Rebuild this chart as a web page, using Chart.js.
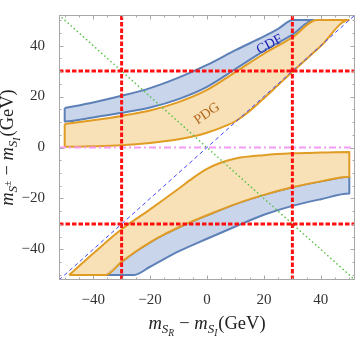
<!DOCTYPE html>
<html>
<head>
<meta charset="utf-8">
<script src="https://cdn.jsdelivr.net/npm/chart.js@4.4.1/dist/chart.umd.min.js"></script>
<style>
  html, body { margin: 0; padding: 0; background: #fff; }
  #wrap { width: 357px; height: 339px; }
</style>
</head>
<body>
<div id="wrap"><canvas id="plot"></canvas></div>
<script>
// region boundaries, [mSR - mSI, mS+- - mSI] in GeV
const cdfUpperHi = [[-50, 15.5], [-40, 17.7], [-30, 20.3], [-20, 23.3], [-10, 27.4], [0, 32.4], [10, 38.2], [20, 43.6], [25, 46.6], [30.2, 50], [37.6, 50]];
const cdfUpperLo = [[-50, 10.2], [-40, 11.8], [-30, 13.6], [-20, 15.7], [-10, 19.0], [0, 23.8], [10, 30.8], [20, 37.9], [30, 44.3], [37.6, 50]];
const pdgUpperHi = [[-50, 9.2], [-40, 10.7], [-30, 12.4], [-20, 14.5], [-10, 17.8], [0, 22.6], [10, 29.6], [20, 36.8], [30, 43.2], [38.6, 50], [49.8, 50]];
const pdgUpperLo = [[-50, 0.3], [-40, 0.5], [-30, 0.9], [-20, 1.8], [-10, 3.2], [-5, 4.3], [0, 5.8], [5, 7.8], [10, 10.3], [15, 14.3], [20, 19.3], [25, 24.5], [30, 29.7], [40, 39.8], [49.8, 50]];
const pdgLowerHi = [[-48.4, -50], [-40, -41.6], [-30, -32.1], [-20, -24.3], [-10, -16.2], [-5, -12.0], [0, -8.4], [5, -5.9], [10, -4.3], [20, -3.0], [30, -2.3], [40, -2.0], [50, -1.8]];
const pdgLowerLo = [[-35.5, -50], [-30, -44.9], [-25, -40.8], [-20, -37.2], [-15, -34.1], [-10, -31.4], [-5, -28.9], [0, -26.6], [10, -22.2], [20, -18.6], [30, -15.6], [40, -13.3], [50, -11.5]];
const cdfLowerLo = [[-25.6, -50], [-20, -46.8], [-10, -40.8], [0, -35.8], [10, -31.0], [20, -26.4], [30, -22.9], [40, -20.3], [50, -18.1]];

const cutsX = [-30, 30];
const cutsY = [-30, 30];
const range = [-52, 52];
const labelTicks = [-40, -20, 0, 20, 40];
const minorTicks = [-50, -45, -40, -35, -30, -25, -20, -15, -10, -5, 0, 5, 10, 15, 20, 25, 30, 35, 40, 45, 50];

const serif = '"Liberation Serif", "DejaVu Serif", serif';
const blueLine = '#5d81b7', blueFill = 'rgba(190, 206, 232, 0.85)';
const orangeLine = '#e19c24', orangeFill = 'rgba(247, 218, 170, 0.85)';

const pts = arr => arr.map(p => ({x: p[0], y: p[1]}));
function band(hi, lo) {
    const ring = [];
    hi.concat(lo.slice().reverse(), [hi[0]]).forEach(p => {
        const last = ring[ring.length - 1];
        if (!last || last[0] !== p[0] || last[1] !== p[1]) ring.push(p);
    });
    return pts(ring);
}

function region(data, line, fill, order) {
    return {data, showLine: true, borderColor: line, backgroundColor: fill, borderWidth: 2,
        fill: 'shape', pointRadius: 0, cubicInterpolationMode: 'monotone', order, borderJoinStyle: 'round'};
}
function guide(data, color, width, dash, order, cap) {
    return {data: pts(data), showLine: true, borderColor: color, borderWidth: width, borderDash: dash,
        fill: false, pointRadius: 0, order, borderCapStyle: cap || 'butt'};
}

const datasets = [
    ...cutsX.map(v => guide([[v, range[0]], [v, range[1]]], '#ff1010', 3, [4.5, 2], 1)),
    ...cutsY.map(v => guide([[range[0], v], [range[1], v]], '#ff1010', 3, [4.5, 2], 1)),
    guide([[range[0], range[1]], [range[1], range[0]]], '#5cc24a', 1.6, [0.1, 4], 2, 'round'),
    guide([[range[0], range[0]], [range[1], range[1]]], '#4646ff', 1, [4, 3], 3),
    guide([[range[0], 0], [range[1], 0]], '#f59af5', 2, [7, 3, 2, 3], 4),
    region(band(pdgUpperHi, pdgUpperLo), orangeLine, orangeFill, 10),
    region(band(cdfUpperHi, cdfUpperLo), blueLine, blueFill, 11),
    region(band(pdgLowerHi, pdgLowerLo), orangeLine, orangeFill, 12),
    region(band(pdgLowerLo, cdfLowerLo), blueLine, blueFill, 13)
];

// frame with inward ticks on all four sides
const frame = {
    id: 'frame',
    afterDatasetsDraw(chart) {
        const {ctx, chartArea: a, scales: {x, y}} = chart;
        ctx.save();
        ctx.strokeStyle = '#a8a8a8';
        ctx.lineWidth = 1;
        ctx.strokeRect(a.left + 0.5, a.top + 0.5, a.width - 1, a.height - 1);
        ctx.beginPath();
        minorTicks.forEach(v => {
            const len = labelTicks.includes(v) ? 4.5 : 2.5;
            const px = Math.round(x.getPixelForValue(v)) + 0.5;
            const py = Math.round(y.getPixelForValue(v)) + 0.5;
            ctx.moveTo(px, a.bottom); ctx.lineTo(px, a.bottom - len);
            ctx.moveTo(px, a.top); ctx.lineTo(px, a.top + len);
            ctx.moveTo(a.left, py); ctx.lineTo(a.left + len, py);
            ctx.moveTo(a.right, py); ctx.lineTo(a.right - len, py);
        });
        ctx.stroke();
        ctx.restore();
    }
};

function rich(ctx, runs, x, y, angle) {
    ctx.save();
    ctx.translate(x, y);
    ctx.rotate(angle);
    ctx.textBaseline = 'alphabetic';
    ctx.textAlign = 'left';
    let total = 0;
    runs.forEach(r => { ctx.font = r.f; total += ctx.measureText(r.t).width + (r.k || 0); });
    let cx = -total / 2;
    runs.forEach(r => {
        ctx.font = r.f;
        ctx.fillText(r.t, cx, r.dy || 0);
        cx += ctx.measureText(r.t).width + (r.k || 0);
    });
    ctx.restore();
}

const it = s => 'italic ' + s + 'px ' + serif;
const rm = s => s + 'px ' + serif;

const texts = {
    id: 'texts',
    afterDraw(chart) {
        const {ctx, chartArea: a, scales: {x, y}} = chart;
        ctx.save();
        ctx.fillStyle = '#1c1cb4';
        ctx.font = rm(14);
        ctx.textAlign = 'center';
        ctx.textBaseline = 'middle';
        ctx.translate(x.getPixelForValue(22), y.getPixelForValue(40.4));
        ctx.rotate(-28 * Math.PI / 180);
        ctx.fillText('CDF', 0, 0);
        ctx.restore();

        ctx.save();
        ctx.fillStyle = '#b2671c';
        ctx.font = rm(14);
        ctx.textAlign = 'center';
        ctx.textBaseline = 'middle';
        ctx.translate(x.getPixelForValue(0), y.getPixelForValue(13.3));
        ctx.rotate(-35 * Math.PI / 180);
        ctx.fillText('PDG', 0, 0);
        ctx.restore();

        ctx.save();
        ctx.fillStyle = '#222';
        const xt = [
            {t: 'm', f: it(18.5)}, {t: 'S', f: it(13), dy: 4}, {t: 'R', f: it(9.5), dy: 7, k: 0.5},
            {t: ' \u2212 ', f: rm(18.5)},
            {t: 'm', f: it(18.5)}, {t: 'S', f: it(13), dy: 4}, {t: 'I', f: it(9.5), dy: 7, k: 1},
            {t: '(GeV)', f: rm(18.5)}
        ];
        rich(ctx, xt, (a.left + a.right) / 2, 329, 0);
        const yt = [
            {t: 'm', f: it(18.5)}, {t: 'S', f: it(13), dy: 4}, {t: '\u00b1', f: rm(9.5), dy: -2, k: 0.5},
            {t: ' \u2212 ', f: rm(18.5)},
            {t: 'm', f: it(18.5)}, {t: 'S', f: it(13), dy: 4}, {t: 'I', f: it(9.5), dy: 7, k: 1},
            {t: '(GeV)', f: rm(18.5)}
        ];
        rich(ctx, yt, 13, (a.top + a.bottom) / 2, -Math.PI / 2);
        ctx.restore();
    }
};

const tickText = v => v < 0 ? '\u2212' + Math.abs(v) : String(v);

new Chart(document.getElementById('plot'), {
    type: 'scatter',
    data: {datasets},
    options: {
        responsive: true,
        maintainAspectRatio: false,
        animation: false,
        layout: {padding: {top: 1, right: 2, left: 0, bottom: 0}},
        plugins: {legend: {display: false}, tooltip: {enabled: false}},
        scales: {
            x: {
                type: 'linear', min: range[0], max: range[1],
                grid: {display: false}, border: {display: false},
                afterBuildTicks: s => { s.ticks = labelTicks.map(v => ({value: v})); },
                afterFit: s => { s.height = 59; },
                ticks: {callback: tickText, maxRotation: 0, autoSkip: false, padding: 3,
                    color: '#333', font: {family: serif, size: 15}}
            },
            y: {
                type: 'linear', min: range[0], max: range[1],
                grid: {display: false}, border: {display: false},
                afterBuildTicks: s => { s.ticks = labelTicks.map(v => ({value: v})); },
                afterFit: s => { s.width = 59; },
                ticks: {callback: tickText, autoSkip: false, padding: 6,
                    color: '#333', font: {family: serif, size: 15}}
            }
        }
    },
    plugins: [frame, texts]
});
</script>
</body>
</html>
